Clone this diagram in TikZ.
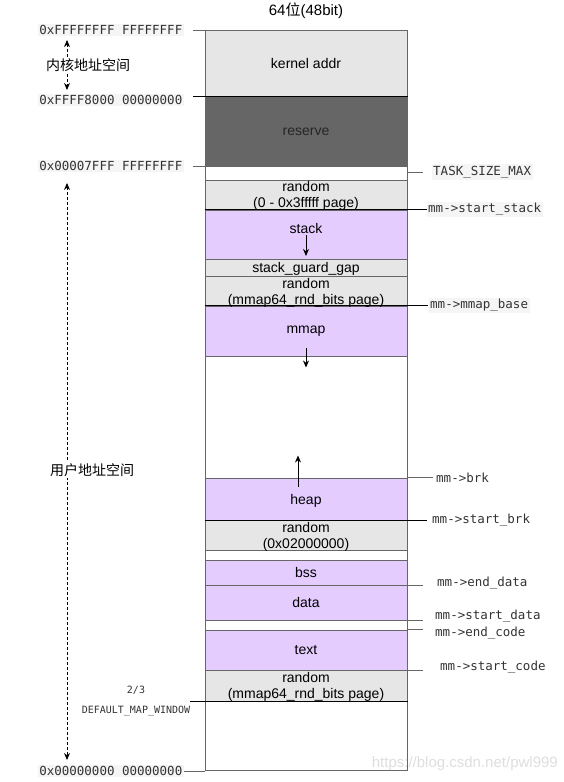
\documentclass[tikz,border=0pt]{standalone}
\usepackage{fontspec}
\setmainfont{Liberation Sans}
\setmonofont{DejaVu Sans Mono}
\newfontfamily\cjk{Noto Sans CJK SC}
\usetikzlibrary{arrows.meta,positioning}

\definecolor{segfill}{HTML}{E6E6E6}
\definecolor{heapfill}{HTML}{E5CCFF}
\definecolor{resfill}{HTML}{666666}
\definecolor{edge}{HTML}{666666}
\definecolor{codebg}{HTML}{F5F5F5}

\begin{document}
\begin{tikzpicture}[
    x=1pt, y=-1pt,
    seg/.style={draw=edge, line width=1pt, minimum width=202pt, inner sep=0pt,
        font=\fontsize{14}{16}\selectfont, align=center},
    greyseg/.style={seg, fill=segfill},
    vmaseg/.style={seg, fill=heapfill},
    segtext/.style={font=\fontsize{14}{16}\selectfont, align=center, inner sep=0pt},
    addr/.style={font=\ttfamily\fontsize{12.5}{14}\selectfont, text=black!80, fill=codebg, inner sep=1.5pt},
    ptr/.style={font=\ttfamily\fontsize{12.5}{14}\selectfont, text=black!80, inner sep=1.5pt, anchor=west},
    tick/.style={draw=edge, line width=1pt},
    boundary/.style={draw=black, line width=0.9pt},
    growarrow/.style={-{Stealth[length=7pt,width=6pt]}, line width=0.9pt},
    spanarrow/.style={{Stealth[length=7pt,width=6pt]}-{Stealth[length=7pt,width=6pt]},
        line width=0.9pt, dash pattern=on 3pt off 2pt},
    cjklabel/.style={font=\cjk\fontsize{14}{16}\selectfont, fill=white, inner sep=1pt}
]
\useasboundingbox (0,0) rectangle (564,782);

% ---------- column ----------
\node[font=\fontsize{15}{17}\selectfont] (title) at (306,11) {64{\cjk 位}(48bit)};
\node[seg, fill=white, minimum height=740pt] (column) at (306,400) {};

% ---------- segments, top to bottom ----------
\node[greyseg, minimum height=67pt] (kernel) at (306,63.5) {kernel addr};
\node[seg, fill=resfill, text=black!85, minimum height=69pt] (reserve) at (306,131.5) {reserve};
\node[greyseg, minimum height=30pt] (randstack) at (306,195) {};
\node[vmaseg, minimum height=49pt] (stack) at (306,234.5) {};
\node[greyseg, minimum height=17pt] (guard) at (306,267.5) {};
\node[greyseg, minimum height=30pt] (randmmap) at (306,291) {};
\node[vmaseg, minimum height=50pt] (mmap) at (306,331) {};

\node[vmaseg, minimum height=42pt] (heap) at (306,499) {};
\node[greyseg, minimum height=30pt] (randbrk) at (306,535) {};
\node[vmaseg, minimum height=25pt] (bss) at (306,572.5) {bss};
\node[vmaseg, minimum height=35pt] (data) at (306,602.5) {data};
\node[vmaseg, minimum height=40pt] (text) at (306,650) {text};
\node[greyseg, minimum height=31pt] (randcode) at (306,685.5) {};

% segment texts
\node[segtext] (randstacktxt) at (306,196) {random\\(0 - 0x3fffff page)};
\node[segtext] (stacktxt) at (306,228) {stack};
\node[segtext] (guardtxt) at (306,269) {stack\_guard\_gap};
\node[segtext] (randmmaptxt) at (306,293) {random\\(mmap64\_rnd\_bits page)};
\node[segtext] (mmaptxt) at (306,331) {mmap};
\node[segtext] (heaptxt) at (306,501) {heap};
\node[segtext] (randbrktxt) at (306,537) {random\\(0x02000000)};
\node[segtext] (randcodetxt) at (306,686.5) {random\\(mmap64\_rnd\_bits page)};

% growth arrows
\coordinate (stackend) at (306,256);
\draw[growarrow] ([yshift=-2pt]stacktxt.south) -- (stackend);
\draw[growarrow] ([yshift=9pt]mmap.south) -- ++(0,20);
\draw[growarrow] ([xshift=-8pt,yshift=-9pt]heap.north) -- ++(0,-31);

% ---------- left: addresses ----------
\node[addr, anchor=east] (atop) at (184,30) {0xFFFFFFFF FFFFFFFF};
\node[addr, anchor=east] (akernel) at (184,100) {0xFFFF8000 00000000};
\node[addr, anchor=east] (auser) at (184,166) {0x00007FFF FFFFFFFF};
\node[addr, anchor=east] (azero) at (184,771) {0x00000000 00000000};
\node[font=\ttfamily\fontsize{10}{20}\selectfont, text=black!80, align=center, inner sep=0pt]
    (window) at (136,701) {2/3\\DEFAULT\_MAP\_WINDOW};

\draw[tick, shorten <=9pt] (atop.east) -- (atop.east -| column.west);
\draw[boundary] ([xshift=9pt]akernel.east |- reserve.north) -- (reserve.north east);
\draw[tick, shorten <=9pt] (auser.east) -- (auser.east -| column.west);
\draw[tick] (azero.east) -- (azero.east -| column.west);
\draw[boundary] (window.east |- randcode.south) -- (randcode.south east);

% kernel / user space spans
\coordinate (ktop) at (67,40);
\coordinate (kbot) at (67,90);
\draw[spanarrow] (ktop) -- (kbot);
\node[cjklabel] (kspace) at (88,65) {内核地址空间};

\coordinate (utop) at (67,183);
\coordinate (ubot) at (67,760);
\draw[spanarrow] (utop) -- (ubot);
\node[cjklabel] (uspace) at (92,470) {用户地址空间};

% ---------- right: pointers ----------
\draw[tick] (column.east |- 0,172) -- ++(15,0) coordinate (ttask);
\node[ptr, fill=codebg, right=9pt of ttask] (ltask) {TASK\_SIZE\_MAX};

\draw[boundary] (stack.north west) -- ++(222,0) coordinate (tstack);
\node[ptr, fill=codebg, right=0pt of tstack] (lstack) {mm->start\_stack};

\draw[boundary] (mmap.north west) -- ++(223,0) coordinate (tmmap);
\node[ptr, fill=codebg, right=1pt of tmmap] (lmmap) {mm->mmap\_base};

\draw[tick] (heap.north east) -- ++(25,0) coordinate (tbrk);
\node[ptr, right=2pt of tbrk] (lbrk) {mm->brk};

\draw[boundary] (heap.south west) -- ++(222,0) coordinate (tsbrk);
\node[ptr, right=4pt of tsbrk] (lsbrk) {mm->start\_brk};

\draw[tick] (bss.south east) -- ++(15,0) coordinate (tedata);
\node[ptr, right=13pt of tedata, yshift=2pt] (ledata) {mm->end\_data};

\draw[tick] (data.south east) -- ++(15,0) coordinate (tsdata);
\node[ptr, right=11pt of tsdata, yshift=4pt] (lsdata) {mm->start\_data};

\draw[tick] (text.north east) -- ++(15,0) coordinate (tecode);
\node[ptr, right=11pt of tecode, yshift=-4pt] (lecode) {mm->end\_code};

\draw[tick] (text.south east) -- ++(15,0) coordinate (tscode);
\node[ptr, right=16pt of tscode, yshift=3pt] (lscode) {mm->start\_code};

% watermark
\node[text=black!13, font=\fontsize{15}{17}\selectfont, anchor=east, inner sep=0pt]
    (mark) at (558,764) {https://blog.csdn.net/pwl999};

\end{tikzpicture}
\end{document}
